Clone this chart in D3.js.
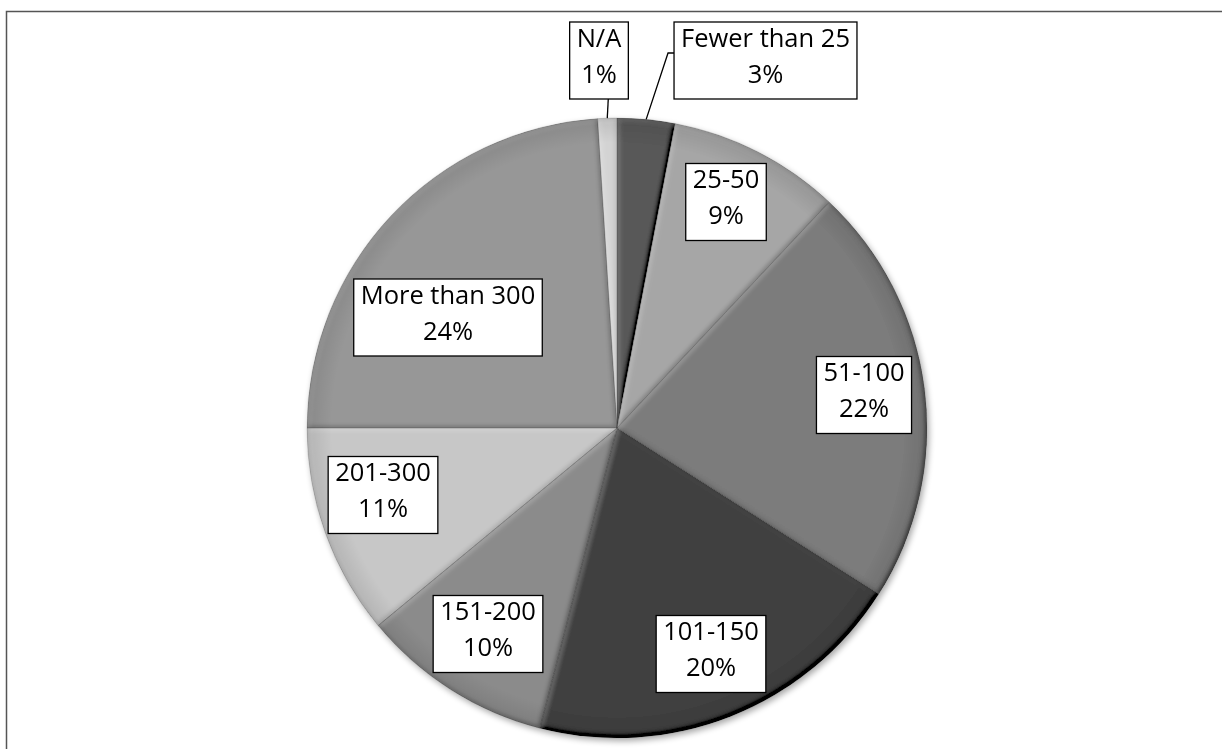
<!DOCTYPE html>
<html>
<head>
<meta charset="utf-8">
<script src="https://cdn.jsdelivr.net/npm/d3@7"></script>
<style>
  html, body { margin: 0; padding: 0; background: #fff; }
  svg { display: block; }
</style>
</head>
<body>
<svg id="chart" width="1222" height="749"></svg>
<script>
// Number of attendees — share of respondents, clockwise from 12 o'clock
const categories = ["Fewer than 25", "25-50", "51-100", "101-150", "151-200", "201-300", "More than 300", "N/A"];
const shares = [3, 9, 22, 20, 10, 11, 24, 1];
const sliceGreys = ["#585858", "#a6a6a6", "#7b7b7b", "#3f3f3f", "#8b8b8b", "#c7c7c7", "#979797", "#d3d3d3"];

// Label box centres (Excel "best fit" placement)
const labelCentres = [[765.5, 60.5], [726, 202], [864, 395], [711, 654], [488, 634], [383, 495], [448, 317.5], [599, 60.5]];

const W = 1222, H = 749;
const cx = 617, cy = 428, R = 310;

const svg = d3.select("#chart");
const defs = svg.append("defs");

// soft bevel: light from the upper left, edges facing away get a little darker
const bevel = defs.append("filter").attr("id", "bevel")
  .attr("x", "-5%").attr("y", "-5%").attr("width", "110%").attr("height", "110%");
bevel.append("feGaussianBlur").attr("in", "SourceAlpha").attr("stdDeviation", 2.5).attr("result", "blur");
const diff = bevel.append("feDiffuseLighting").attr("in", "blur").attr("surfaceScale", 1.6)
  .attr("diffuseConstant", 1).attr("lighting-color", "#fff").attr("result", "light");
diff.append("feDistantLight").attr("azimuth", 225).attr("elevation", 45);
bevel.append("feComposite").attr("in", "SourceGraphic").attr("in2", "light")
  .attr("operator", "arithmetic").attr("k1", 0).attr("k2", 1).attr("k3", 0.35).attr("k4", -0.247)
  .attr("result", "lit");
bevel.append("feComposite").attr("in", "lit").attr("in2", "SourceAlpha").attr("operator", "in");

// drop shadow under the whole pie
const shadow = defs.append("filter").attr("id", "shadow")
  .attr("x", "-10%").attr("y", "-10%").attr("width", "120%").attr("height", "120%");
shadow.append("feGaussianBlur").attr("in", "SourceAlpha").attr("stdDeviation", 3).attr("result", "b");
shadow.append("feOffset").attr("in", "b").attr("dx", 1.5).attr("dy", 2.5).attr("result", "o");
shadow.append("feComponentTransfer").attr("in", "o").attr("result", "s")
  .append("feFuncA").attr("type", "linear").attr("slope", 0.35);
const merge = shadow.append("feMerge");
merge.append("feMergeNode").attr("in", "s");
merge.append("feMergeNode").attr("in", "SourceGraphic");

// rim darkening
const rim = defs.append("radialGradient").attr("id", "rim")
  .attr("cx", 0).attr("cy", 0).attr("r", R).attr("gradientUnits", "userSpaceOnUse");
rim.append("stop").attr("offset", "0.92").attr("stop-color", "#000").attr("stop-opacity", 0);
rim.append("stop").attr("offset", "0.985").attr("stop-color", "#000").attr("stop-opacity", 0.08);
rim.append("stop").attr("offset", "1").attr("stop-color", "#000").attr("stop-opacity", 0.16);

// chart frame (only top and left edges fall inside the page)
svg.append("rect")
  .attr("x", 6.5).attr("y", 11.5).attr("width", W + 20).attr("height", H + 20)
  .attr("fill", "none").attr("stroke", "#555").attr("stroke-width", 1.5);

const pie = d3.pie().sort(null).value(d => d).startAngle(0).endAngle(2 * Math.PI);
const arcs = pie(shares);
const arc = d3.arc().innerRadius(0).outerRadius(R);

const pieG = svg.append("g").attr("transform", `translate(${cx},${cy})`).attr("filter", "url(#shadow)");
const sliceG = pieG.append("g");
sliceG.selectAll("path.slice")
  .data(arcs)
  .join("path")
  .attr("class", "slice")
  .attr("d", arc)
  .attr("fill", (d, i) => sliceGreys[i])
  .attr("filter", "url(#bevel)");
pieG.append("circle").attr("r", R).attr("fill", "url(#rim)");
// fine dividing lines between slices
pieG.selectAll("path.edge")
  .data(arcs)
  .join("path")
  .attr("class", "edge")
  .attr("d", arc)
  .attr("fill", "none")
  .attr("stroke", "#000")
  .attr("stroke-opacity", 0.12)
  .attr("stroke-width", 1);

// labels
const FONT = "'Open Sans', 'Liberation Sans', sans-serif";
const boxH = 77;
const labelG = svg.append("g");

function rimPoint(d) {
  const a = (d.startAngle + d.endAngle) / 2;
  return [cx + R * Math.sin(a), cy - R * Math.cos(a)];
}

arcs.forEach((d, i) => {
  const [lx, ly] = labelCentres[i];
  const g = labelG.append("g");
  const rect = g.append("rect").attr("fill", "#fff").attr("stroke", "#000").attr("stroke-width", 1.3);
  const t1 = g.append("text").attr("x", lx).attr("y", ly - 14)
    .attr("text-anchor", "middle").attr("font-family", FONT).attr("font-size", 25.5).attr("fill", "#000")
    .text(categories[i]);
  const t2 = g.append("text").attr("x", lx).attr("y", ly + 22)
    .attr("text-anchor", "middle").attr("font-family", FONT).attr("font-size", 25.5).attr("fill", "#000")
    .text(shares[i] + "%");
  const w = Math.max(t1.node().getComputedTextLength(), t2.node().getComputedTextLength()) + 14;
  rect.attr("x", lx - w / 2).attr("y", ly - boxH / 2).attr("width", w).attr("height", boxH);
  d.box = { x0: lx - w / 2, x1: lx + w / 2, y0: ly - boxH / 2, y1: ly + boxH / 2 };
});

// leader lines for the two thin slices at the top
const leader = d3.line();
{
  const d = arcs[0];
  const p = rimPoint(d);
  const bx = d.box.x0, by = d.box.y0 + 31;
  labelG.append("path")
    .attr("d", leader([p, [bx - 6, by], [bx, by]]))
    .attr("fill", "none").attr("stroke", "#000").attr("stroke-width", 1.3);
}
{
  const d = arcs[7];
  const p = rimPoint(d);
  labelG.append("path")
    .attr("d", leader([p, [p[0] + 1, d.box.y1]]))
    .attr("fill", "none").attr("stroke", "#000").attr("stroke-width", 1.3);
}
</script>
</body>
</html>
